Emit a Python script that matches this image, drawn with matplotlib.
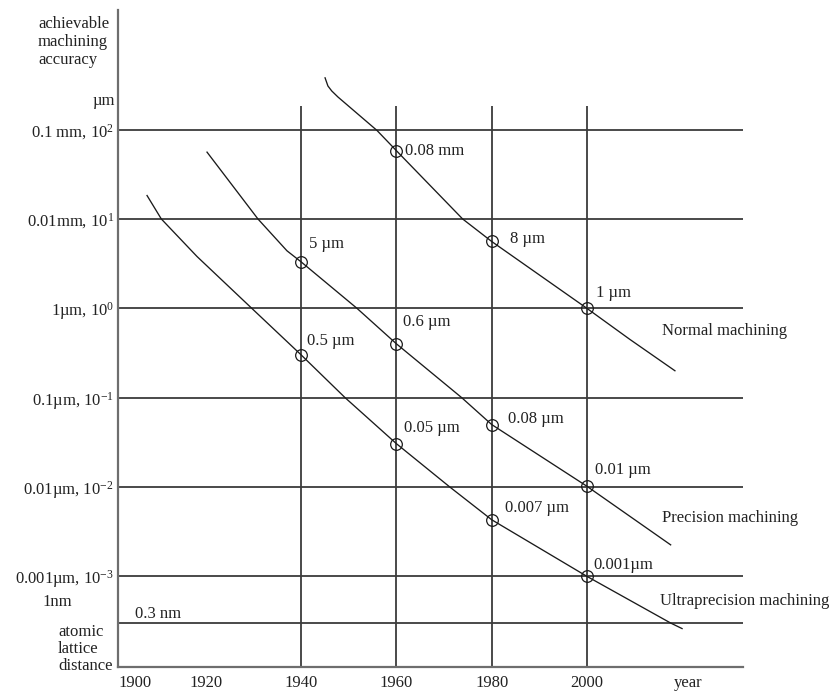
import matplotlib
matplotlib.use("Agg")
import matplotlib.pyplot as plt


# ============================================================
# DATA
# ============================================================

years_normal = [1945.0, 1945.6, 1946.4, 1947.7, 1955.9, 1960, 1973.9, 1980, 2000, 2009.0, 2018.5]
acc_normal = [380, 308, 271, 232, 98, 58, 10, 5.6, 1, 0.45, 0.2]

years_precision = [1920.2, 1930.9, 1937.0, 1940, 1951.7, 1960, 1973.7, 1980, 2000, 2017.6]
acc_precision = [56, 10, 4.4, 3.3, 1, 0.40, 0.1, 0.050, 0.0102, 0.00225]

years_ultra = [1907.6, 1910.6, 1918.1, 1929.6, 1940, 1949.2, 1960, 1971.2, 1980, 2000, 2017.6, 2020.0]
acc_ultra = [18.3, 10, 3.8, 1, 0.30, 0.1, 0.0305, 0.01, 0.0043, 0.001, 3e-4, 2.6e-4]

mark_years_normal = [1960, 1980, 2000]
mark_normal = [58, 5.6, 1]
labels_normal = ["0.08 mm", "8 µm", "1 µm"]

mark_years_precision = [1940, 1960, 1980, 2000]
mark_precision = [3.3, 0.40, 0.050, 0.0102]
labels_precision = ["5 µm", "0.6 µm", "0.08 µm", "0.01 µm"]

mark_years_ultra = [1940, 1960, 1980, 2000]
mark_ultra = [0.30, 0.0305, 0.0043, 0.001]
labels_ultra = ["0.5 µm", "0.05 µm", "0.007 µm", "0.001µm"]

grid_levels = [1e2, 1e1, 1e0, 1e-1, 1e-2, 1e-3, 3e-4]
ytick_labels = ["0.1 mm, 10$^{2}$", "0.01mm, 10$^{1}$", "1µm, 10$^{0}$",
                "0.1µm, 10$^{-1}$", "0.01µm, 10$^{-2}$", "0.001µm, 10$^{-3}$"]
grid_years = [1940, 1960, 1980, 2000]
xtick_years = [1920, 1940, 1960, 1980, 2000]


# ============================================================
# STYLE
# ============================================================

plt.rcParams["font.family"] = "serif"
plt.rcParams["font.serif"] = ["Liberation Serif", "DejaVu Serif"]
plt.rcParams["mathtext.fontset"] = "custom"
plt.rcParams["mathtext.rm"] = "Liberation Serif"
plt.rcParams["mathtext.it"] = "Liberation Serif:italic"
plt.rcParams["font.size"] = 12

W, H = 833, 691
GRID_C = "#3c3c3c"
LINE_C = "#1a1a1a"


def fx(px):
    return px / W


def fy(py):
    return 1 - py / H


# ============================================================
# FIGURE
# ============================================================

fig = plt.figure(figsize=(W / 100, H / 100), dpi=100)
ax = fig.add_axes([fx(118), fy(667), fx(743) - fx(118), fy(10) - fy(667)])
ax.set_yscale("log")
ax.set_xlim(1901.5, 2032.8)
ax.set_ylim(9.66e-5, 2183)

for side in ["top", "right"]:
    ax.spines[side].set_visible(False)
for side in ["left", "bottom"]:
    ax.spines[side].set_color("#6e6e6e")
    ax.spines[side].set_linewidth(1.6)

# grid lines
ax.hlines(grid_levels, 1901.5, 2032.8, color=GRID_C, lw=1.3, zorder=1)
ax.vlines(grid_years, 9.66e-5, 184, color=GRID_C, lw=1.3, zorder=1)

# curves
curves = [
    (years_normal, acc_normal, mark_years_normal, mark_normal, labels_normal,
     [(9, 0), (18, 2), (9, 15)]),
    (years_precision, acc_precision, mark_years_precision, mark_precision, labels_precision,
     [(8, 18), (7, 22), (16, 6), (8, 16)]),
    (years_ultra, acc_ultra, mark_years_ultra, mark_ultra, labels_ultra,
     [(6, 14), (8, 16), (13, 12), (7, 11)]),
]

for yrs, acc, myrs, macc, labs, offs in curves:
    ax.plot(yrs, acc, color=LINE_C, lw=0.95, zorder=3)
    ax.plot(myrs, macc, "o", ms=8.4, mfc="none", mec=LINE_C, mew=0.9, zorder=4)
    for x, y, lab, (dx, dy) in zip(myrs, macc, labs, offs):
        ax.annotate(lab, (x, y), xytext=(dx, dy), textcoords="offset pixels",
                    ha="left", va="center", fontsize=12, color="#222222")

ax.text(2015.8, 0.557, "Normal machining", ha="left", va="center", clip_on=False, color="#222222")
ax.text(2015.8, 0.0045, "Precision machining", ha="left", va="center", clip_on=False, color="#222222")
ax.text(2015.3, 5.3e-4, "Ultraprecision machining", ha="left", va="center", clip_on=False, color="#222222")
ax.annotate("0.3 nm", (1905.1, 3e-4), xytext=(0, 1), textcoords="offset pixels",
            ha="left", va="bottom", color="#222222")

# ticks
ax.set_yticks(grid_levels[:6], ytick_labels)
ax.yaxis.set_minor_locator(matplotlib.ticker.NullLocator())
ax.set_xticks(xtick_years, [str(y) for y in xtick_years])
ax.tick_params(axis="both", length=0, labelsize=12, colors="#222222")
ax.tick_params(axis="y", pad=3)
ax.tick_params(axis="x", pad=6)

ax.annotate("1900", (0, 0), xycoords="axes fraction", xytext=(0, -6), textcoords="offset points",
            ha="left", va="top", color="#222222")
ax.annotate("year", (2021.2, 0), xycoords=ax.get_xaxis_transform(), xytext=(0, -6),
            textcoords="offset points", ha="center", va="top", color="#222222")

# left side labels
fig.text(fx(38), fy(42), "achievable\nmachining\naccuracy", ha="left", va="center",
         linespacing=1.15, color="#222222")
fig.text(fx(115), fy(101), "µm", ha="right", va="center", color="#222222")
fig.text(fx(57), fy(602), "1nm", ha="center", va="center", color="#222222")
fig.text(fx(58), fy(649), "atomic\nlattice\ndistance", ha="left", va="center",
         linespacing=1.12, color="#222222")

fig.savefig("out.png", dpi=100)
